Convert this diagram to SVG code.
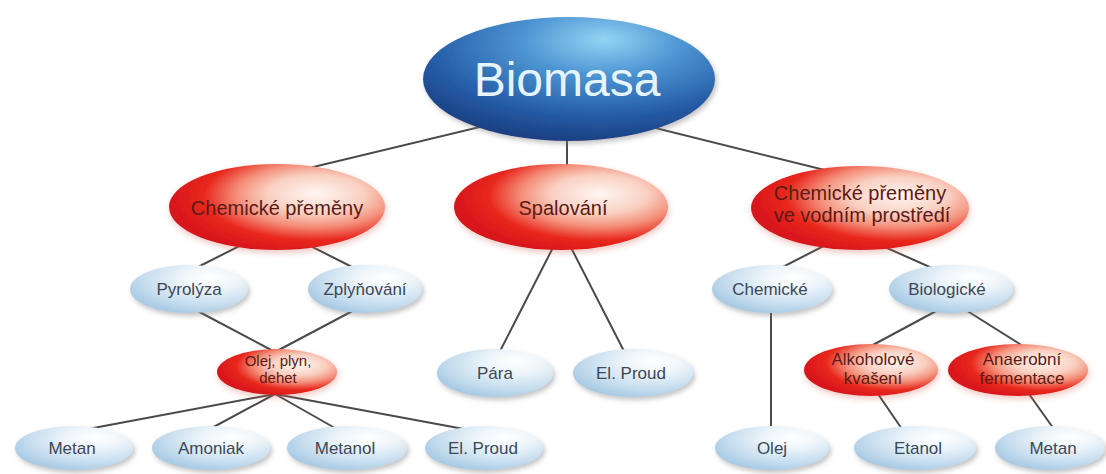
<svg xmlns="http://www.w3.org/2000/svg" width="1106" height="474" viewBox="0 0 1106 474">
<defs>
<radialGradient id="gBio" cx="0.6" cy="0.22" r="0.8" fx="0.62" fy="0.18">
<stop offset="0" stop-color="#94d4f4"/>
<stop offset="0.35" stop-color="#4c94d2"/>
<stop offset="0.75" stop-color="#245aa4"/>
<stop offset="1" stop-color="#1a3e80"/>
</radialGradient>
<radialGradient id="gRed" cx="0.68" cy="0.38" r="0.7" fx="0.68" fy="0.34">
<stop offset="0" stop-color="#fff6f2"/>
<stop offset="0.32" stop-color="#f9d0c2"/>
<stop offset="0.52" stop-color="#f4907a"/>
<stop offset="0.74" stop-color="#e8281e"/>
<stop offset="1" stop-color="#d6121a"/>
</radialGradient>
<radialGradient id="gBlue" cx="0.66" cy="0.3" r="0.8" fx="0.68" fy="0.25">
<stop offset="0" stop-color="#ffffff"/>
<stop offset="0.3" stop-color="#eef5fa"/>
<stop offset="0.7" stop-color="#c4dcee"/>
<stop offset="1" stop-color="#9fc4e0"/>
</radialGradient>
<filter id="sh" x="-20%" y="-30%" width="140%" height="170%">
<feDropShadow dx="2" dy="3" stdDeviation="2.5" flood-color="#7a7a7a" flood-opacity="0.45"/>
</filter>
<filter id="shR" x="-20%" y="-30%" width="140%" height="170%">
<feDropShadow dx="1" dy="3" stdDeviation="3" flood-color="#d06050" flood-opacity="0.35"/>
</filter>
</defs>
<style>
.bio{fill:url(#gBio);filter:url(#sh)}
.red{fill:url(#gRed);filter:url(#shR)}
.blue{fill:url(#gBlue);filter:url(#sh)}
.tb{font-family:"Liberation Sans",Arial,sans-serif;font-size:48px;fill:#e6f5fc;text-anchor:middle}
.tr{font-family:"Liberation Sans",Arial,sans-serif;font-size:20px;fill:#5c1a14;text-anchor:middle}
.trs{font-family:"Liberation Sans",Arial,sans-serif;font-size:17px;fill:#5c1a14;text-anchor:middle}
.tro{font-family:"Liberation Sans",Arial,sans-serif;font-size:15px;fill:#5c1a14;text-anchor:middle}
.tl{font-family:"Liberation Sans",Arial,sans-serif;font-size:17px;fill:#3c4856;text-anchor:middle}
.cn line{stroke:#4a4a4a;stroke-width:2;stroke-linecap:round}
</style>
<rect width="1106" height="474" fill="#ffffff"/>
<g id="connectors" class="cn">
<line x1="567" y1="106" x2="280" y2="175"/>
<line x1="567" y1="106" x2="567" y2="180"/>
<line x1="567" y1="106" x2="853" y2="177"/>
<line x1="275" y1="228" x2="192" y2="270"/>
<line x1="275" y1="228" x2="358" y2="270"/>
<line x1="190" y1="307" x2="275" y2="352"/>
<line x1="360" y1="307" x2="275" y2="352"/>
<line x1="275" y1="394" x2="72" y2="432"/>
<line x1="275" y1="394" x2="208" y2="430"/>
<line x1="275" y1="394" x2="342" y2="432"/>
<line x1="275" y1="394" x2="480" y2="432"/>
<line x1="562" y1="230" x2="497" y2="357"/>
<line x1="562" y1="230" x2="627" y2="357"/>
<line x1="851" y1="232" x2="771" y2="273"/>
<line x1="851" y1="232" x2="941" y2="272"/>
<line x1="771" y1="305" x2="771" y2="432"/>
<line x1="953" y1="302" x2="871" y2="346"/>
<line x1="953" y1="302" x2="1023" y2="346"/>
<line x1="878" y1="394" x2="904" y2="432"/>
<line x1="1029" y1="394" x2="1056" y2="432"/>
</g>
<g id="biomasa"><ellipse class="bio" cx="569" cy="79" rx="146" ry="62"/><text class="tb" x="567" y="96">Biomasa</text></g>
<g id="chem-premeny"><ellipse class="red" cx="277" cy="207" rx="108" ry="43"/><text class="tr" x="277" y="215">Chemické přeměny</text></g>
<g id="spalovani"><ellipse class="red" cx="561" cy="207" rx="107" ry="43"/><text class="tr" x="563" y="215">Spalování</text></g>
<g id="chem-voda"><ellipse class="red" cx="860" cy="208" rx="109" ry="42"/><text class="tr" x="860" y="200">Chemické přeměny</text><text class="tr" x="862" y="222">ve vodním prostředí</text></g>
<g id="pyrolyza"><ellipse class="blue" cx="189" cy="289" rx="59" ry="24"/><text class="tl" x="189" y="295">Pyrolýza</text></g>
<g id="zplynovani"><ellipse class="blue" cx="365" cy="289" rx="57" ry="24"/><text class="tl" x="365" y="295">Zplyňování</text></g>
<g id="olej-plyn"><ellipse class="red" cx="277" cy="372" rx="60" ry="23"/><text class="tro" x="278" y="366">Olej, plyn,</text><text class="tro" x="278" y="383">dehet</text></g>
<g id="metan1"><ellipse class="blue" cx="74" cy="448" rx="59" ry="22"/><text class="tl" x="72" y="454">Metan</text></g>
<g id="amoniak"><ellipse class="blue" cx="211" cy="448" rx="59" ry="22"/><text class="tl" x="211" y="454">Amoniak</text></g>
<g id="metanol"><ellipse class="blue" cx="347" cy="448" rx="60" ry="22"/><text class="tl" x="345" y="454">Metanol</text></g>
<g id="elproud1"><ellipse class="blue" cx="484" cy="448" rx="59" ry="22"/><text class="tl" x="483" y="454">El. Proud</text></g>
<g id="para"><ellipse class="blue" cx="495" cy="373" rx="58" ry="24"/><text class="tl" x="495" y="379">Pára</text></g>
<g id="elproud2"><ellipse class="blue" cx="633" cy="373" rx="60" ry="24"/><text class="tl" x="631" y="379">El. Proud</text></g>
<g id="chemicke"><ellipse class="blue" cx="772" cy="289" rx="60" ry="24"/><text class="tl" x="770" y="295">Chemické</text></g>
<g id="biologicke"><ellipse class="blue" cx="951" cy="289" rx="62" ry="24"/><text class="tl" x="947" y="295">Biologické</text></g>
<g id="alkoholove"><ellipse class="red" cx="871" cy="370" rx="67" ry="26"/><text class="trs" x="873" y="365">Alkoholové</text><text class="trs" x="873" y="384">kvašení</text></g>
<g id="anaerobni"><ellipse class="red" cx="1018" cy="370" rx="70" ry="26"/><text class="trs" x="1022" y="365">Anaerobní</text><text class="trs" x="1022" y="384">fermentace</text></g>
<g id="olej"><ellipse class="blue" cx="772" cy="448" rx="57" ry="22"/><text class="tl" x="772" y="454">Olej</text></g>
<g id="etanol"><ellipse class="blue" cx="915" cy="448" rx="61" ry="22"/><text class="tl" x="918" y="454">Etanol</text></g>
<g id="metan2"><ellipse class="blue" cx="1050" cy="448" rx="55" ry="22"/><text class="tl" x="1053" y="454">Metan</text></g>
</svg>
